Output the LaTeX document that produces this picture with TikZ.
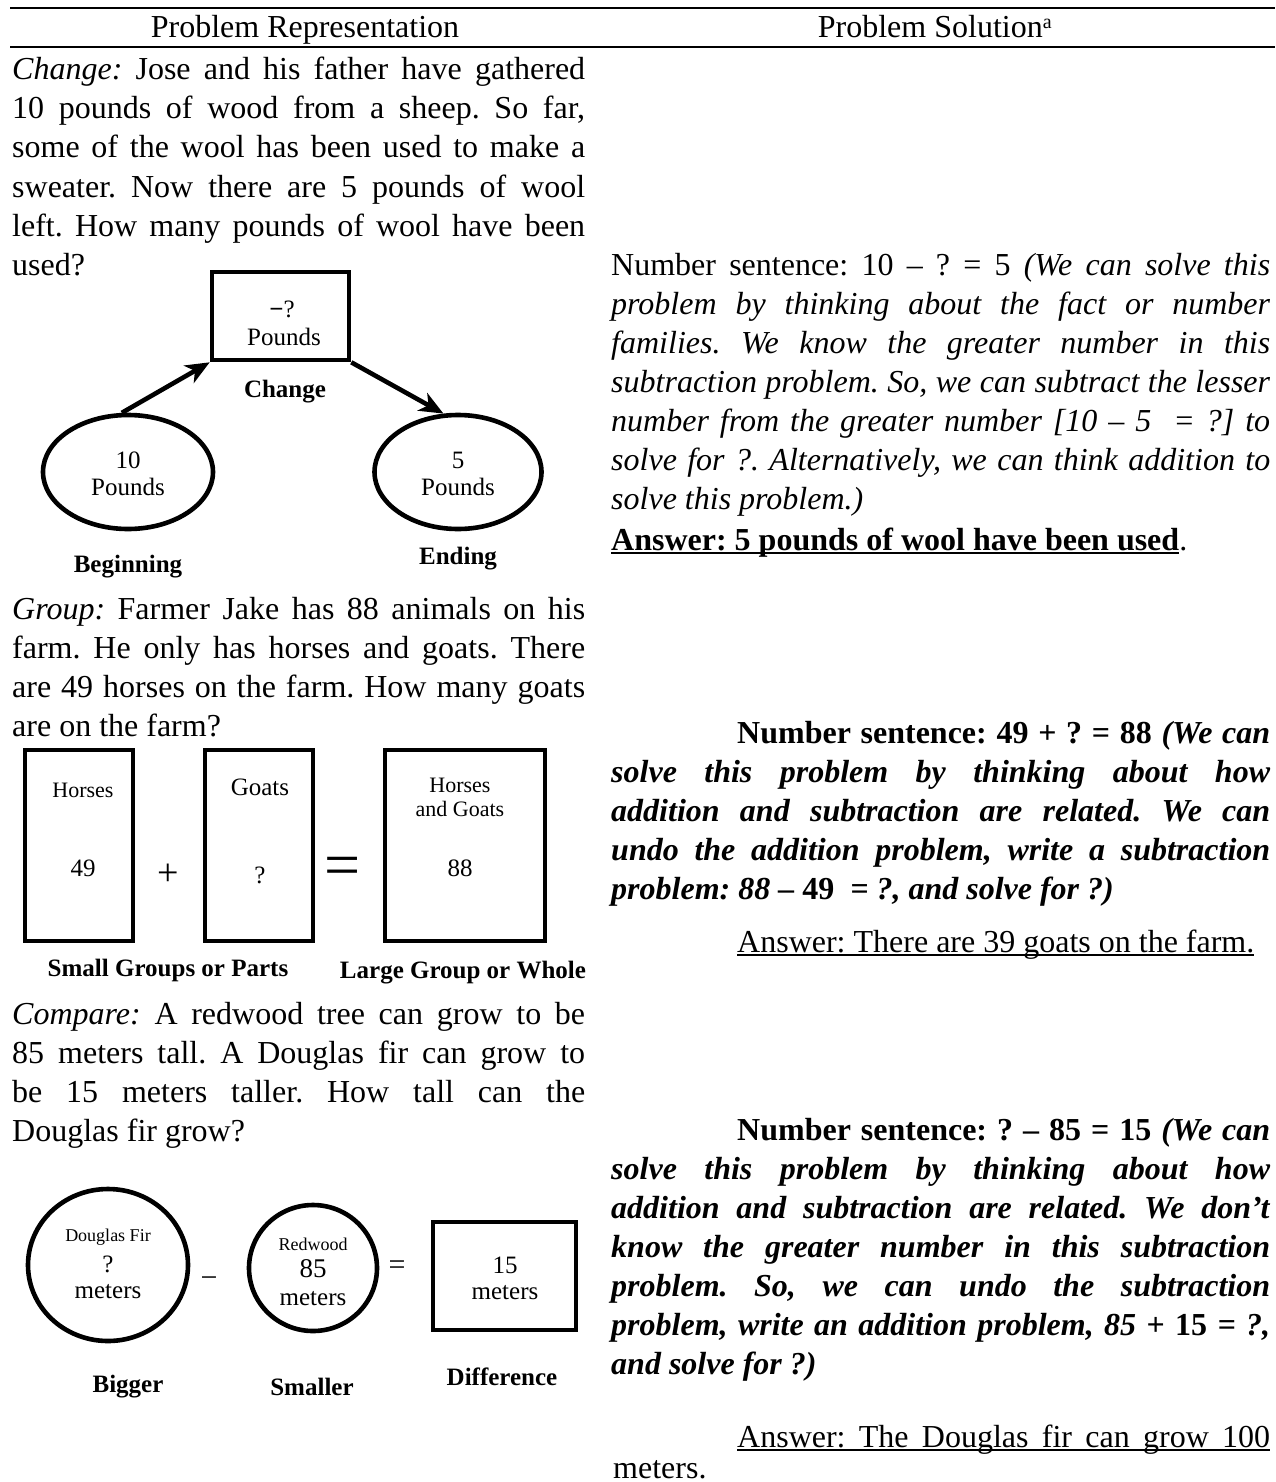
\documentclass[tikz,border=0pt]{standalone}
\usepackage{fontspec}
\setmainfont{Liberation Serif}
\usetikzlibrary{shapes.geometric,arrows.meta}
\newcommand\JL[2]{\makebox[#1][s]{#2}}
\newcommand\myul[1]{\setbox0\hbox{#1}\rlap{\rule[-3.5pt]{\wd0}{1.6pt}}\box0}
\tikzset{
  body/.style={anchor=base west, inner sep=0pt, font=\fontsize{32}{39}\selectfont},
  head/.style={anchor=base, inner sep=0pt, font=\fontsize{32}{39}\selectfont},
  rulel/.style={line width=2.2pt},
  shp/.style={draw, line width=4.6pt, inner sep=0pt},
  dtxt/.style={inner sep=0pt, font=\fontsize{25}{28}\selectfont, align=center},
  stxt/.style={inner sep=0pt, font=\fontsize{18}{20}\selectfont},
  lbl/.style={inner sep=0pt, font=\fontsize{25}{28}\selectfont\bfseries},
  arr/.style={line width=4.6pt, -{Stealth[length=24pt,width=20pt,inset=7pt]}},
}
\begin{document}
\frenchspacing
\begin{tikzpicture}[x=1pt,y=-1pt]
\useasboundingbox (0,0) rectangle (1275,1482);
% header rules
\coordinate (r1a) at (10,8); \coordinate (r1b) at (1275,8);
\coordinate (r2a) at (10,47); \coordinate (r2b) at (1275,47);
\draw[rulel] (r1a) -- (r1b);
\draw[rulel] (r2a) -- (r2b);
\node[head] (h1) at (305,38) {Problem Representation};
\node[head] (h2) at (935,38) {Problem Solution\textsuperscript{\fontsize{20}{20}\selectfont a}};

% ---------- left paragraph 1
\node[body] (a1) at (12,80)  {\JL{573pt}{\textit{Change:} Jose and his father have gathered}};
\node[body] (a2) at (12,119) {\JL{573pt}{10 pounds of wood from a sheep. So far,}};
\node[body] (a3) at (12,158) {\JL{573pt}{some of the wool has been used to make a}};
\node[body] (a4) at (12,197) {\JL{573pt}{sweater. Now there are 5 pounds of wool}};
\node[body] (a5) at (12,236) {\JL{573pt}{left. How many pounds of wool have been}};
\node[body] (a6) at (12,275) {used?};

% diagram 1
\node[shp, minimum width=137pt, minimum height=88pt] (chg) at (280.5,316) {};
\node[dtxt] (chgt) at (282,309) {\textbf{−}?};
\node[dtxt] (chgu) at (284,337) {Pounds};
\node[lbl] (chgl) at (285,392) {Change};
\node[shp, ellipse, minimum width=170pt, minimum height=114pt] (beg) at (128,472) {};
\node[dtxt] (begt) at (128,460) {10};
\node[dtxt] (begu) at (128,487) {Pounds};
\node[shp, ellipse, minimum width=167pt, minimum height=114pt] (endd) at (458,472) {};
\node[dtxt] (endt) at (458,460) {5};
\node[dtxt] (endu) at (458,487) {Pounds};
\node[lbl] (begl) at (128,567) {Beginning};
\node[lbl] (endl) at (458,559) {Ending};
\draw[arr] (beg.96) -- (chg.south west);
\draw[arr] (chg.south east) -- (endd.104);

% ---------- left paragraph 2
\node[body] (b1) at (12,619) {\JL{573pt}{\textit{Group:} Farmer Jake has 88 animals on his}};
\node[body] (b2) at (12,658) {\JL{573pt}{farm. He only has horses and goats. There}};
\node[body] (b3) at (12,697) {\JL{573pt}{are 49 horses on the farm. How many goats}};
\node[body] (b4) at (12,736) {are on the farm?};

% diagram 2
\node[shp, minimum width=108pt, minimum height=191pt] (bx1) at (79,845.5) {};
\node[shp, minimum width=108pt, minimum height=191pt] (bx2) at (259,845.5) {};
\node[shp, minimum width=160pt, minimum height=191pt] (bx3) at (465,845.5) {};
\node[dtxt, font=\fontsize{22}{26}\selectfont] (bx1a) at (83,790) {Horses};
\node[dtxt] (bx1b) at (83,868) {49};
\node[dtxt] (bx2a) at (260,787) {Goats};
\node[dtxt] (bx2b) at (260,875) {?};
\node[dtxt, font=\fontsize{22}{24}\selectfont] (bx3a) at (460,797) {Horses\\and Goats};
\node[dtxt] (bx3b) at (460,868) {88};
\node[inner sep=0pt, font=\fontsize{38}{40}\selectfont] (plus) at (168,875) {+};
\node[inner sep=0pt, font=\fontsize{64}{64}\selectfont] (eq2) at (343,872) {=};
\node[lbl] (bl1) at (168,970) {Small Groups or Parts};
\node[lbl] (bl2) at (463,973) {Large Group or Whole};

% ---------- left paragraph 3
\node[body] (c1) at (12,1024) {\JL{573pt}{\textit{Compare:} A redwood tree can grow to be}};
\node[body] (c2) at (12,1063) {\JL{573pt}{85 meters tall. A Douglas fir can grow to}};
\node[body] (c3) at (12,1102) {\JL{573pt}{be 15 meters taller. How tall can the}};
\node[body] (c4) at (12,1141) {Douglas fir grow?};

% diagram 3
\node[shp, ellipse, minimum width=160pt, minimum height=152pt] (big) at (108,1265) {};
\node[stxt] (bigt) at (108,1237) {Douglas Fir};
\node[dtxt] (bigq) at (108,1264) {?};
\node[dtxt] (bigm) at (108,1292) {meters};
\node[inner sep=0pt, font=\fontsize{30}{30}\selectfont] (minus) at (209,1282) {−};
\node[shp, ellipse, minimum width=128pt, minimum height=126pt] (sml) at (313,1268) {};
\node[stxt] (smlt) at (313,1244) {Redwood};
\node[dtxt, font=\fontsize{27}{30}\selectfont] (smln) at (313,1269) {85};
\node[dtxt] (smlm) at (313,1299) {meters};
\node[inner sep=0pt, font=\fontsize{30}{30}\selectfont] (eq3) at (397,1268) {=};
\node[shp, minimum width=143pt, minimum height=108pt] (dif) at (504.5,1276) {};
\node[dtxt] (dift) at (505,1265) {15};
\node[dtxt] (difm) at (505,1293) {meters};
\node[lbl] (dl1) at (128,1387) {Bigger};
\node[lbl] (dl2) at (312,1387) {Smaller};
\node[lbl] (dl3) at (502,1377) {Difference};

% ---------- right paragraph 1
\node[body] (d1) at (611,275) {\JL{659pt}{Number sentence: 10 – ? = 5 \textit{(We can solve this}}};
\node[body] (d2) at (611,314) {\JL{659pt}{\textit{problem by thinking about the fact or number}}};
\node[body] (d3) at (611,353) {\JL{659pt}{\textit{families. We know the greater number in this}}};
\node[body] (d4) at (611,392) {\JL{659pt}{\textit{subtraction problem. So, we can subtract the lesser}}};
\node[body] (d5) at (611,431) {\JL{659pt}{\textit{number from the greater number [10 – 5 \ = ?] to}}};
\node[body] (d6) at (611,470) {\JL{659pt}{\textit{solve for ?. Alternatively, we can think addition to}}};
\node[body] (d7) at (611,509) {\textit{solve this problem.)}};
\node[body] (d8) at (611,550) {\myul{\textbf{Answer: 5 pounds of wool have been used}}.};

% ---------- right paragraph 2
\node[body] (e1) at (737,743) {\JL{533pt}{\textbf{Number sentence: 49 + ? = 88} \textbf{\textit{(We can}}}};
\node[body] (e2) at (611,782) {\JL{659pt}{\textbf{\textit{solve this problem by thinking about how}}}};
\node[body] (e3) at (611,821) {\JL{659pt}{\textbf{\textit{addition and subtraction are related. We can}}}};
\node[body] (e4) at (611,860) {\JL{659pt}{\textbf{\textit{undo the addition problem, write a subtraction}}}};
\node[body] (e5) at (611,899) {\textbf{\textit{problem: 88 – }49 \textit{\ = ?, and solve for ?)}}};
\node[body] (e6) at (737,952) {\myul{Answer: There are 39 goats on the farm.}};

% ---------- right paragraph 3
\node[body] (f1) at (737,1140) {\JL{533pt}{\textbf{Number sentence: ? – 85 = 15} \textbf{\textit{(We can}}}};
\node[body] (f2) at (611,1179) {\JL{659pt}{\textbf{\textit{solve this problem by thinking about how}}}};
\node[body] (f3) at (611,1218) {\JL{659pt}{\textbf{\textit{addition and subtraction are related. We don’t}}}};
\node[body] (f4) at (611,1257) {\JL{659pt}{\textbf{\textit{know the greater number in this subtraction}}}};
\node[body] (f5) at (611,1296) {\JL{659pt}{\textbf{\textit{problem. So, we can undo the subtraction}}}};
\node[body] (f6) at (611,1335) {\JL{659pt}{\textbf{\textit{problem, write an addition problem, 85} + 15 \textit{= ?,}}}};
\node[body] (f7) at (611,1374) {\textbf{\textit{and solve for ?)}}};
\node[body] (f8) at (737,1447) {\myul{\JL{533pt}{Answer: The Douglas fir can grow 100}}};
\node[body] (f9) at (613,1478) {meters.};
\end{tikzpicture}
\end{document}
